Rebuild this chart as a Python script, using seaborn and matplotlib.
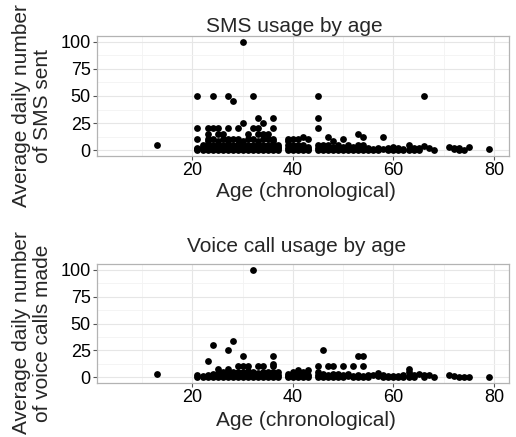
import matplotlib
matplotlib.use("Agg")
import matplotlib.pyplot as plt
import seaborn as sns
import pandas as pd
from matplotlib.ticker import FixedLocator

# ---- data ----
sms_age = ([13] + [21]*6 + [22]*4 + [23]*7 + [24]*7 + [25]*7 + [26]*6 + [27]*7 + [28]*6 +
           [29]*6 + [30]*7 + [31]*6 + [32]*6 + [33]*7 + [34]*6 + [35]*5 + [36]*7 + [37]*4 +
           [39]*5 + [40]*5 + [41]*4 + [42]*4 + [43]*4 + [45]*6 + [46]*4 + [47]*4 + [48]*4 +
           [49]*3 + [50]*4 + [51]*3 + [52]*3 + [53]*4 + [54]*4 + [55]*3 + [56]*2 + [57]*2 +
           [58]*2 + [59]*2 + [60]*3 + [61]*2 + [62]*2 + [63]*2 + [64]*2 + [65]*2 + [66]*2 +
           [67] + [68] + [71] + [72]*2 + [73]*2 + [74] + [75] + [79])
sms_val = ([5,
            50, 20, 10, 2, 0, 1,
            5, 0, 2, 3,
            10, 15, 20, 2, 5, 0, 8,
            50, 20, 3, 0, 10, 5, 1,
            20, 15, 5, 2, 0, 3, 8,
            10, 15, 2, 0, 5, 1,
            50, 20, 8, 3, 0, 5, 10,
            45, 10, 2, 0, 5, 1,
            20, 10, 3, 0, 6, 2,
            100, 25, 5, 0, 2, 8, 3,
            15, 10, 2, 0, 5, 1,
            50, 20, 10, 5, 0, 3,
            30, 20, 15, 5, 0, 2, 8,
            25, 10, 5, 0, 3, 15,
            15, 10, 2, 0, 5,
            30, 20, 10, 5, 2, 0, 8,
            5, 2, 0, 3,
            10, 5, 0, 2, 8,
            10, 3, 0, 5, 1,
            10, 5, 2, 0,
            12, 5, 2, 0,
            10, 3, 0, 1,
            50, 30, 20, 5, 2, 0,
            5, 2, 0, 1,
            12, 5, 2, 0,
            8, 3, 1, 0,
            5, 2, 0,
            10, 3, 0, 1,
            5, 2, 0,
            3, 1, 0,
            15, 5, 2, 0,
            12, 5, 2, 0,
            2, 0, 1,
            1, 0,
            2, 0,
            12, 1,
            2, 0,
            3, 1, 0,
            2, 0,
            1, 0,
            5, 0,
            2, 0,
            2, 0,
            50, 4,
            2,
            0,
            3,
            2, 1,
            0, 2,
            0,
            3,
            1])

voice_age = ([13] + [21]*2 + [22]*2 + [23]*3 + [24]*4 + [25]*4 + [26]*3 + [27]*4 + [28]*4 +
             [29]*4 + [30]*5 + [31]*4 + [32]*4 + [33]*4 + [34]*4 + [35]*3 + [36]*6 + [37]*3 +
             [39]*3 + [40]*3 + [41]*4 + [42]*3 + [43]*3 + [45]*4 + [46]*4 + [47]*3 + [48]*4 +
             [49]*2 + [50]*4 + [51]*2 + [52]*3 + [53]*3 + [54]*4 + [55]*2 + [56] + [57]*2 +
             [58]*2 + [59]*2 + [60]*2 + [61]*2 + [62]*2 + [63]*4 + [64]*2 + [65] + [66]*2 +
             [67] + [68] + [71] + [72] + [73] + [74] + [75] + [79])
voice_val = ([3,
              0, 2,
              0, 1,
              15, 2, 0,
              30, 3, 0, 1,
              8, 2, 0, 4,
              5, 0, 2,
              25, 8, 3, 0,
              34, 5, 0, 2,
              10, 3, 0, 5,
              20, 10, 5, 0, 2,
              10, 3, 0, 6,
              100, 5, 0, 2,
              10, 4, 0, 2,
              10, 5, 0, 3,
              5, 2, 0,
              20, 12, 10, 5, 2, 0,
              5, 2, 0,
              3, 0, 1,
              5, 2, 0,
              7, 3, 0, 1,
              5, 2, 0,
              7, 2, 0,
              10, 5, 2, 0,
              25, 3, 0, 1,
              10, 2, 0,
              10, 3, 0, 1,
              3, 0,
              10, 2, 0, 1,
              3, 1,
              10, 1, 0,
              20, 2, 0,
              20, 10, 1, 0,
              0, 2,
              2,
              4, 1,
              2, 0,
              1, 0,
              1, 0,
              1, 0,
              0, 2,
              8, 5, 1, 0,
              2, 0,
              3,
              2, 0,
              2,
              0,
              2,
              1,
              0,
              0,
              0,
              0])

titles = ["SMS usage by age", "Voice call usage by age"]
ylabels = ["Average daily number\nof SMS sent", "Average daily number\nof voice calls made"]
xlabel = "Age (chronological)"
xticks = [20, 40, 60, 80]
yticks = [0, 25, 50, 75, 100]

sns.set_style("white")
plt.rcParams['font.family'] = ['Liberation Sans', 'DejaVu Sans']

W, H = 516, 437
fig = plt.figure(figsize=(W/100, H/100), dpi=100)

panels = [(97, 36, 509, 156), (97, 264, 509, 383)]
datasets = [(sms_age, sms_val), (voice_age, voice_val)]
title_x = [294, 297]
title_y = [26, 247]
xlab_y = [191, 421]
ylab_y = [106, 333]

for i, ((l, t, r, b), (xa, ya)) in enumerate(zip(panels, datasets)):
    ax = fig.add_axes([l/W, 1 - b/H, (r-l)/W, (b-t)/H])
    df = pd.DataFrame({"age": xa, "val": ya})
    ax.xaxis.set_minor_locator(FixedLocator([10, 30, 50, 70]))
    ax.yaxis.set_minor_locator(FixedLocator([12.5, 37.5, 62.5, 87.5]))
    ax.grid(True, which='major', color='#e6e6e6', linewidth=0.8)
    ax.grid(True, which='minor', color='#f3f3f3', linewidth=0.6)
    ax.set_axisbelow(True)
    sns.scatterplot(data=df, x="age", y="val", ax=ax, color='black', s=24,
                    linewidth=0, zorder=3)
    ax.set_xlim(1, 83)
    ax.set_ylim(-5.5, 105.5)
    ax.set_xticks(xticks)
    ax.set_yticks(yticks)
    ax.tick_params(axis='both', which='major', labelsize=13, length=3, width=0.8,
                   color='#555555', labelcolor='black', direction='out',
                   bottom=True, left=True)
    ax.tick_params(axis='x', which='major', pad=1.5)
    ax.tick_params(axis='y', which='major', pad=1.5)
    ax.tick_params(which='minor', length=0)
    for s in ax.spines.values():
        s.set_color('#b3b3b3')
        s.set_linewidth(0.9)
    ax.set_xlabel("")
    ax.set_ylabel("")
    fig.text(title_x[i]/W, 1 - title_y[i]/H, titles[i], ha='center', va='center', fontsize=15)
    fig.text(306/W, 1 - xlab_y[i]/H, xlabel, ha='center', va='center', fontsize=15)
    fig.text(32/W, 1 - ylab_y[i]/H, ylabels[i], ha='center', va='center', fontsize=15,
             rotation=90, multialignment='center', linespacing=1.1)

fig.savefig("out.png", dpi=100)
